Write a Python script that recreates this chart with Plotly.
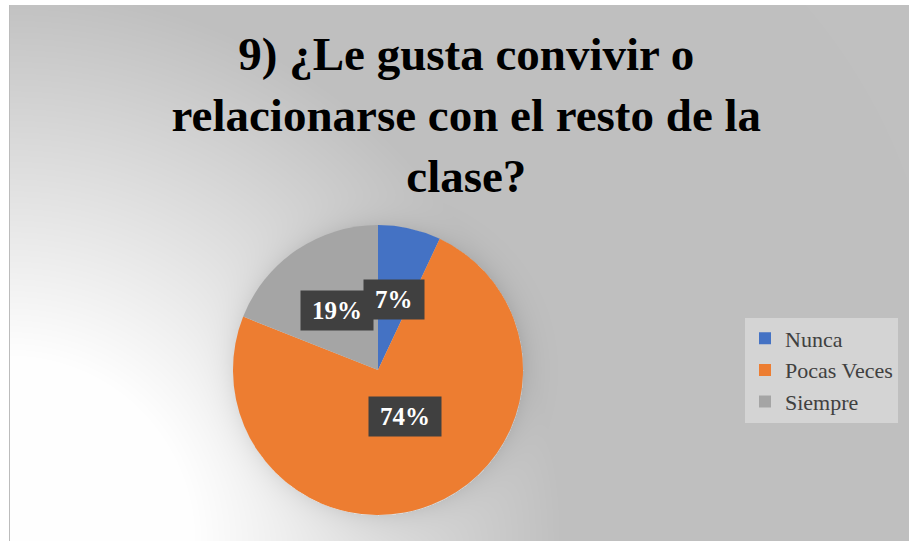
import base64
import struct
import zlib

import numpy as np
import plotly.graph_objects as go

# ---- data ----
categories = ["Nunca", "Pocas Veces", "Siempre"]
values = [7, 74, 19]
colors = ["#4472C4", "#ED7D31", "#A5A5A5"]
title_lines = ["9) ¿Le gusta convivir o", "relacionarse con el resto de la", "clase?"]

# ---- geometry (pixels) ----
W, H = 909, 541
CX, CY, R = 378, 370, 145
SERIF = "Liberation Serif"


def make_background():
    yy, xx = np.mgrid[0:H, 0:W].astype(float)
    d = np.hypot(xx - 9, yy - H)
    val = 255 - np.clip((d - 180) / 370, 0, 1) * 63
    dp = np.hypot(xx - CX, yy - CY)
    val -= np.where(dp > R, 18 * np.exp(-(dp - R) / 12.0), 0)
    val[:5, :] = 255
    val[:, :9] = 255
    val[5:, 9] = 188
    arr = np.clip(val, 0, 255).astype(np.uint8)
    raw = b"".join(b"\x00" + row.tobytes() for row in arr)

    def chunk(tag, data):
        c = struct.pack(">I", len(data)) + tag + data
        return c + struct.pack(">I", zlib.crc32(tag + data) & 0xFFFFFFFF)

    png = b"\x89PNG\r\n\x1a\n"
    png += chunk(b"IHDR", struct.pack(">IIBBBBB", W, H, 8, 0, 0, 0, 0))
    png += chunk(b"IDAT", zlib.compress(raw, 9))
    png += chunk(b"IEND", b"")
    return "data:image/png;base64," + base64.b64encode(png).decode()


fig = go.Figure(
    go.Pie(
        labels=categories,
        values=values,
        marker=dict(colors=colors, line=dict(width=0)),
        sort=False,
        direction="clockwise",
        rotation=0,
        textinfo="none",
        hoverinfo="label+percent",
        domain=dict(x=[(CX - R) / W, (CX + R) / W], y=[(H - CY - R) / H, (H - CY + R) / H]),
    )
)

# data labels placed at half radius, along each slice's middle angle
total = sum(values)
cum = 0
annotations = []
for v in values:
    mid = (cum + v / 2) / total * 2 * np.pi
    cum += v
    px = CX + 0.5 * R * np.sin(mid)
    py = CY - 0.5 * R * np.cos(mid)
    annotations.append(
        dict(
            x=px / W,
            y=(H - py) / H,
            xref="paper",
            yref="paper",
            text="<b>\u2009%d%%\u2009</b>" % round(v / total * 100),
            showarrow=False,
            font=dict(family=SERIF, size=25, color="white"),
            bgcolor="#404040",
            borderpad=6,
        )
    )

fig.update_layout(
    width=W,
    height=H,
    margin=dict(l=0, r=0, t=0, b=0),
    paper_bgcolor="white",
    plot_bgcolor="rgba(0,0,0,0)",
    images=[
        dict(
            source=make_background(),
            xref="paper",
            yref="paper",
            x=0,
            y=1,
            sizex=1,
            sizey=1,
            sizing="stretch",
            xanchor="left",
            yanchor="top",
            layer="below",
        )
    ],
    title=dict(
        text="<br>".join(title_lines),
        x=0.513,
        xanchor="center",
        y=1 - 70 / H,
        yanchor="top",
        font=dict(family=SERIF, size=47, color="black", weight="bold"),
    ),
    legend=dict(
        x=745 / W,
        y=(H - 370) / H,
        xanchor="left",
        yanchor="middle",
        bgcolor="#D4D4D4",
        font=dict(family=SERIF, size=22, color="#404040"),
    ),
    annotations=annotations,
)

fig.write_html(
    "out.html",
    config={"displayModeBar": False},
    post_script="document.body.style.margin='0px';",
)
